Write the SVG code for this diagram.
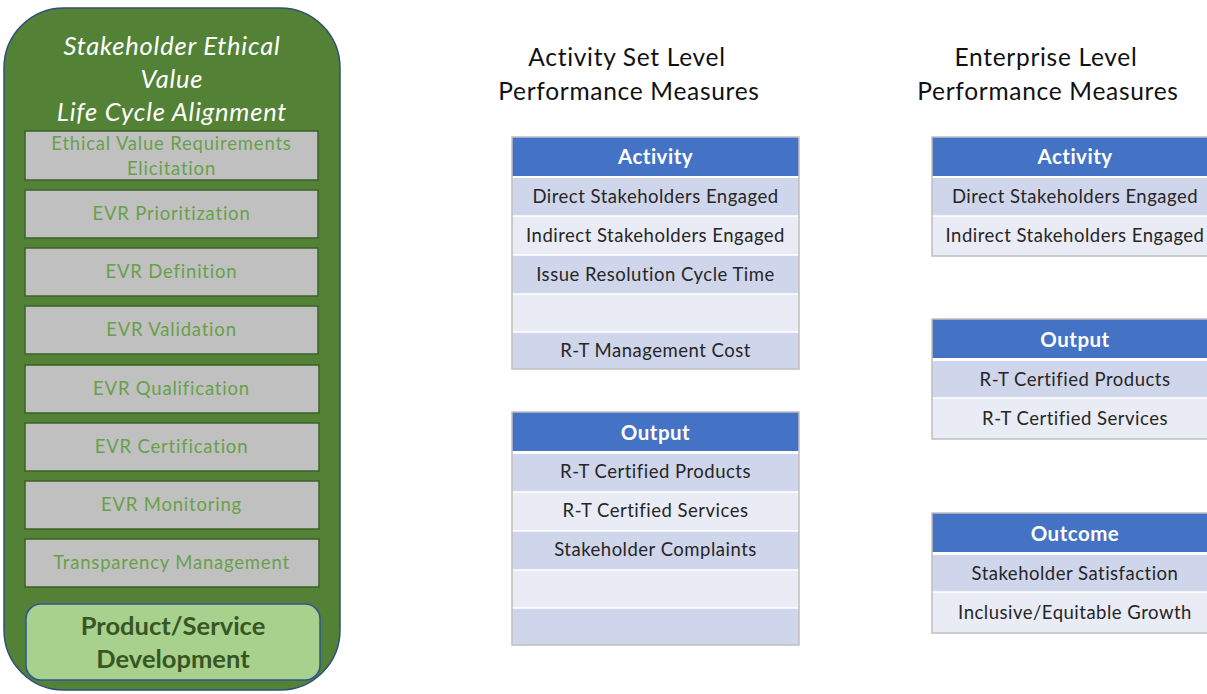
<svg xmlns="http://www.w3.org/2000/svg" width="1207" height="694" viewBox="0 0 1207 694">
<style>
text{font-family:Lato,"Liberation Sans",sans-serif;text-anchor:middle}
.title{font-style:italic;fill:#fff;font-size:25.5px;letter-spacing:0.8px}
.step{fill:#c0c0c0;stroke:#3b6127;stroke-width:1.5}
.steptxt{fill:#68a04a;font-size:18.5px;letter-spacing:0.8px}
.hdr{fill:#111;font-size:24.5px;letter-spacing:0.7px}
.th{fill:#4472c4}
.thtxt{fill:#fff;font-weight:bold;font-size:20.5px;letter-spacing:0.5px}
.ra{fill:#cfd5ea}
.rb{fill:#e9ebf5}
.rtxt{fill:#262626;font-size:18.5px;letter-spacing:0.5px}
.frame{fill:none;stroke:#bfbfbf;stroke-width:1.5}
.sep{stroke:#fff;stroke-width:1.5}
</style>
<rect width="1207" height="694" fill="#fff"/>
<g id="lifecycle">
<rect x="4" y="8" width="336" height="682" rx="60" ry="60" fill="#538135" stroke="#2f4f7a" stroke-width="1.5"/>
<text class="title" x="172" y="55">Stakeholder Ethical</text>
<text class="title" x="172" y="88">Value</text>
<text class="title" x="172" y="121">Life Cycle Alignment</text>
</g>
<g id="step-elicitation"><rect class="step" x="25" y="131" width="293" height="49"/><text class="steptxt" x="171.5" y="150">Ethical Value Requirements</text><text class="steptxt" x="171.5" y="175">Elicitation</text></g>
<g id="step-prioritization"><rect class="step" x="25" y="190" width="293" height="48"/><text class="steptxt" x="171.5" y="220">EVR Prioritization</text></g>
<g id="step-definition"><rect class="step" x="25" y="248" width="293" height="48"/><text class="steptxt" x="171.5" y="278">EVR Definition</text></g>
<g id="step-validation"><rect class="step" x="25" y="306" width="293" height="48"/><text class="steptxt" x="171.5" y="336">EVR Validation</text></g>
<g id="step-qualification"><rect class="step" x="25" y="365" width="294" height="48"/><text class="steptxt" x="171.5" y="395">EVR Qualification</text></g>
<g id="step-certification"><rect class="step" x="25" y="423" width="294" height="48"/><text class="steptxt" x="171.5" y="453">EVR Certification</text></g>
<g id="step-monitoring"><rect class="step" x="25" y="481" width="294" height="48"/><text class="steptxt" x="171.5" y="511">EVR Monitoring</text></g>
<g id="step-transparency"><rect class="step" x="25" y="539" width="294" height="48"/><text class="steptxt" x="171.5" y="569">Transparency Management</text></g>
<g id="product-service">
<rect x="26" y="604" width="294" height="76" rx="15" ry="15" fill="#a9d18e" stroke="#2f5597" stroke-width="1.5"/>
<text x="173" y="635" font-size="25.5" font-weight="bold" fill="#375623">Product/Service</text>
<text x="173" y="668" font-size="25.5" font-weight="bold" fill="#375623">Development</text>
</g>
<g id="heading-activity-set">
<text class="hdr" x="627" y="66">Activity Set Level</text>
<text class="hdr" x="629" y="100">Performance Measures</text>
</g>
<g id="heading-enterprise">
<text class="hdr" x="1046" y="66">Enterprise Level</text>
<text class="hdr" x="1048" y="100">Performance Measures</text>
</g>
<g id="table-set-activity">
<rect class="th" x="512" y="137" width="287" height="39"/>
<text class="thtxt" x="655.5" y="164">Activity</text>
<rect class="ra" x="512" y="178" width="287" height="38"/>
<rect class="rb" x="512" y="216" width="287" height="39"/>
<rect class="ra" x="512" y="255" width="287" height="39"/>
<rect class="rb" x="512" y="294" width="287" height="38"/>
<rect class="ra" x="512" y="332" width="287" height="37"/>
<path class="sep" d="M512 216H799M512 255H799M512 294H799M512 332H799"/>
<rect class="frame" x="512" y="137" width="287" height="232"/>
<text class="rtxt" x="655.5" y="203">Direct Stakeholders Engaged</text>
<text class="rtxt" x="655.5" y="242">Indirect Stakeholders Engaged</text>
<text class="rtxt" x="655.5" y="281">Issue Resolution Cycle Time</text>
<text class="rtxt" x="655.5" y="357">R-T Management Cost</text>
</g>
<g id="table-set-output">
<rect class="th" x="512" y="412" width="287" height="39"/>
<text class="thtxt" x="655.5" y="440">Output</text>
<rect class="ra" x="512" y="454" width="287" height="38"/>
<rect class="rb" x="512" y="492" width="287" height="39"/>
<rect class="ra" x="512" y="531" width="287" height="39"/>
<rect class="rb" x="512" y="570" width="287" height="38"/>
<rect class="ra" x="512" y="608" width="287" height="37"/>
<path class="sep" d="M512 492H799M512 531H799M512 570H799M512 608H799"/>
<rect class="frame" x="512" y="412" width="287" height="233"/>
<text class="rtxt" x="655.5" y="478">R-T Certified Products</text>
<text class="rtxt" x="655.5" y="517">R-T Certified Services</text>
<text class="rtxt" x="655.5" y="556">Stakeholder Complaints</text>
</g>
<g id="table-ent-activity">
<rect class="th" x="932" y="137" width="287" height="39"/>
<text class="thtxt" x="1075" y="164">Activity</text>
<rect class="ra" x="932" y="178" width="287" height="38"/>
<rect class="rb" x="932" y="216" width="287" height="40"/>
<path class="sep" d="M932 216H1219"/>
<rect class="frame" x="932" y="137" width="287" height="119"/>
<text class="rtxt" x="1075" y="203">Direct Stakeholders Engaged</text>
<text class="rtxt" x="1075" y="242">Indirect Stakeholders Engaged</text>
</g>
<g id="table-ent-output">
<rect class="th" x="932" y="319" width="287" height="39"/>
<text class="thtxt" x="1075" y="347">Output</text>
<rect class="ra" x="932" y="361" width="287" height="37"/>
<rect class="rb" x="932" y="398" width="287" height="41"/>
<path class="sep" d="M932 398H1219"/>
<rect class="frame" x="932" y="319" width="287" height="120"/>
<text class="rtxt" x="1075" y="386">R-T Certified Products</text>
<text class="rtxt" x="1075" y="425">R-T Certified Services</text>
</g>
<g id="table-ent-outcome">
<rect class="th" x="932" y="513" width="287" height="39"/>
<text class="thtxt" x="1075" y="541">Outcome</text>
<rect class="ra" x="932" y="555" width="287" height="37"/>
<rect class="rb" x="932" y="592" width="287" height="41"/>
<path class="sep" d="M932 592H1219"/>
<rect class="frame" x="932" y="513" width="287" height="120"/>
<text class="rtxt" x="1075" y="580">Stakeholder Satisfaction</text>
<text class="rtxt" x="1075" y="619">Inclusive/Equitable Growth</text>
</g>
<g id="connectors"/>
</svg>
